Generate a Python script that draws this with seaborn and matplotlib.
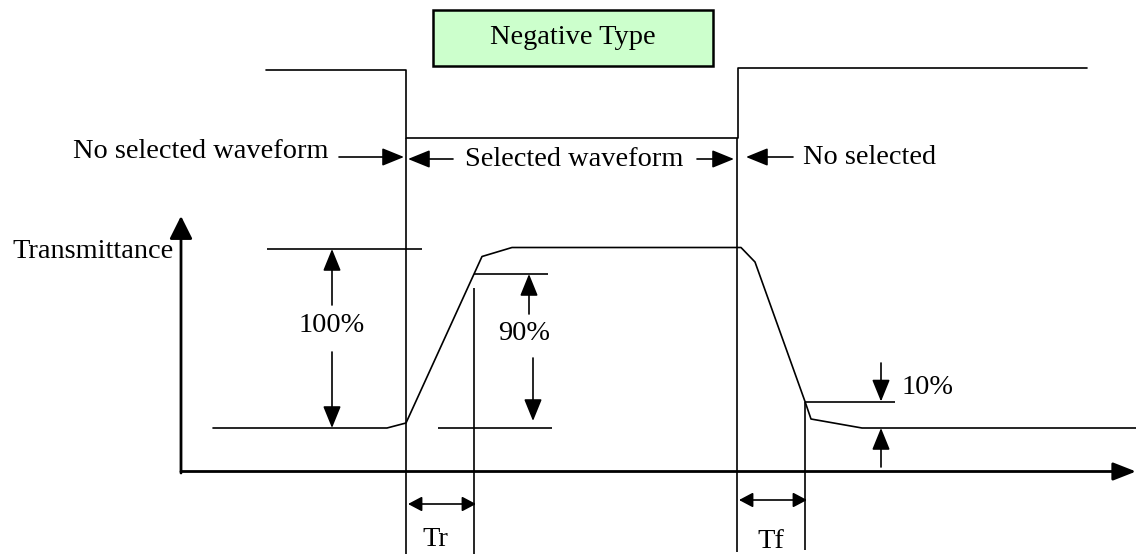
import pandas as pd
import seaborn as sns
import matplotlib.pyplot as plt
from matplotlib.patches import Rectangle

# diagram is laid out in image pixels (y grows downward)
drive_x = [266, 406, 406, 738, 738, 1087]
drive_y = [70, 70, 137.5, 137.5, 68, 68]

trans_x = [213, 387, 406, 482, 512, 741, 755, 805, 811, 862, 1136]
trans_y = [428, 428, 423, 256.5, 247.5, 247.5, 262, 401.5, 419, 428, 428]

level_100 = 249
level_90 = 274
level_10 = 401.5
level_0 = 428

sns.set_theme(style='white')
plt.rcParams['font.family'] = ['Liberation Serif', 'DejaVu Serif']
plt.rcParams['text.color'] = 'black'

fig = plt.figure(figsize=(11.36, 5.55), dpi=100)
ax = fig.add_axes([0, 0, 1, 1])
ax.set_xlim(0, 1136)
ax.set_ylim(555, 0)
ax.axis('off')

lw = 1.2
fs = 20.4

drive_df = pd.DataFrame({'x': drive_x, 'y': drive_y})
trans_df = pd.DataFrame({'x': trans_x, 'y': trans_y})
sns.lineplot(data=drive_df, x='x', y='y', sort=False, estimator=None,
             color='black', lw=lw, ax=ax)
sns.lineplot(data=trans_df, x='x', y='y', sort=False, estimator=None,
             color='black', lw=lw, ax=ax)

def line(x0, y0, x1, y1, w=lw):
    ax.plot([x0, x1], [y0, y1], color='black', lw=w, solid_capstyle='butt')

def arrow(x0, y0, x1, y1, style='-|>,head_length=1.35,head_width=0.55', w=lw):
    ax.annotate('', xy=(x1, y1), xytext=(x0, y0),
                arrowprops=dict(arrowstyle=style, color='black', lw=w,
                                shrinkA=0, shrinkB=0, mutation_scale=10))

# title box
ax.add_patch(Rectangle((433, 9.5), 280, 56, facecolor='#ccffcc',
                       edgecolor='black', lw=1.8))
ax.text(573, 37, 'Negative Type', ha='center', va='center', fontsize=fs)

# vertical markers
line(406, 137.5, 406, 554)
line(737, 137.5, 737, 552)
line(474, 288, 474, 554)
line(805, 401.5, 805, 550)

# axes
arrow(181, 473, 181, 216, style='-|>,head_length=1.4,head_width=0.7', w=2)
arrow(181, 471.5, 1136, 471.5, style='-|>,head_length=1.4,head_width=0.55', w=2)

# reference levels
line(267, level_100, 422, level_100)
line(474, level_90, 548, level_90)
line(438, level_0, 552, level_0)
line(805, level_10, 895, level_10)

# percentage arrows
arrow(332, 305, 332, level_100)
arrow(332, 352, 332, level_0)
ax.text(332, 325, '100%', ha='center', va='center', fontsize=fs)
arrow(529, 314, 529, level_90)
arrow(533, 358, 533, 421)
ax.text(524, 334, '90%', ha='center', va='center', fontsize=fs)
arrow(881, 363, 881, level_10)
arrow(881, 467, 881, level_0)
ax.text(902, 388, '10%', ha='left', va='center', fontsize=fs)

# top labels
ax.text(73, 151, 'No selected waveform', ha='left', va='center', fontsize=fs)
arrow(339, 157, 404, 157)
arrow(453, 159, 408, 159)
ax.text(465, 160, 'Selected waveform', ha='left', va='center', fontsize=fs)
arrow(697, 159, 734, 159)
arrow(793, 157, 746, 157)
ax.text(803, 157, 'No selected', ha='left', va='center', fontsize=fs)

ax.text(12, 252, 'Transmittance', ha='left', va='center', fontsize=fs)

# rise / fall times
tstyle = '<|-|>,head_length=0.85,head_width=0.45'
arrow(408, 504, 476, 504, style=tstyle)
ax.text(435, 540, 'Tr', ha='center', va='center', fontsize=fs)
arrow(739, 500, 807, 500, style=tstyle)
ax.text(771, 541, 'Tf', ha='center', va='center', fontsize=fs)

plt.savefig('out.png', dpi=100)
